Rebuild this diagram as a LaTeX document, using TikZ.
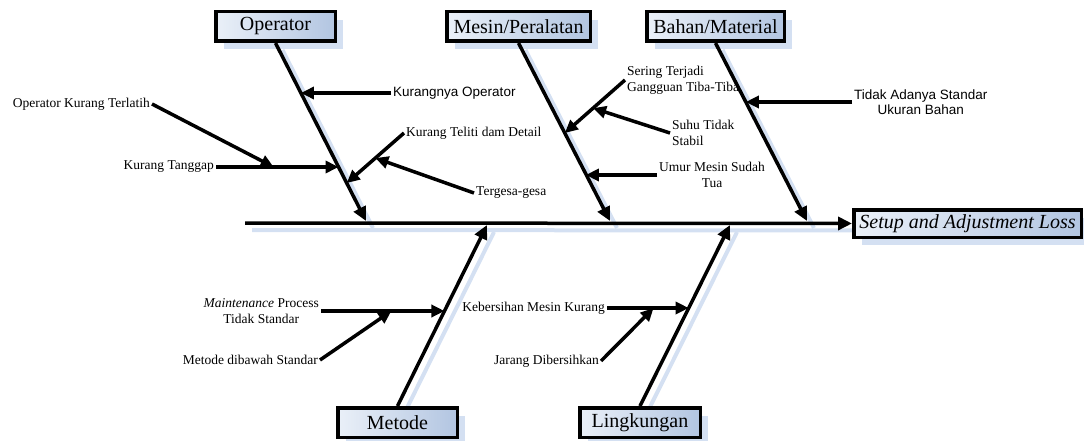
\documentclass[tikz,border=0pt]{standalone}
\usepackage{fontspec}
\setmainfont{Liberation Serif}
\newfontfamily\arial{Liberation Sans}
\usetikzlibrary{arrows.meta,calc,shadows,backgrounds}
\definecolor{birumuda}{RGB}{234,240,248}
\definecolor{birutua}{RGB}{178,197,225}
\definecolor{bayangan}{RGB}{212,224,242}

\begin{document}
\begin{tikzpicture}[x=1pt,y=-1pt,
  kotak/.style={draw, line width=3.5pt, left color=birumuda, right color=birutua,
    inner sep=0pt, minimum height=29.5pt, font=\fontsize{20}{22}\selectfont,
    general shadow={fill=bayangan, shadow xshift=8pt, shadow yshift=-8pt}},
  tulang/.style={line width=3.5pt, -{Triangle[length=14pt,width=13pt]}},
  panah/.style={line width=3.5pt, -{Triangle[length=13pt,width=12pt]}},
  bayang/.style={bayangan, line width=4pt},
  sebab/.style={font=\fontsize{13.5}{16}\selectfont, inner sep=2pt},
  sebabsans/.style={sebab, font=\arial\fontsize{13.5}{15}\selectfont}]
  \useasboundingbox (0,0) rectangle (1084,441);

  % Kotak kategori
  \node[kotak, minimum width=119.5pt] (op) at (275.5,26.5) {Operator};
  \node[kotak, minimum width=143.5pt] (ms) at (518.5,26.5) {Mesin/Peralatan};
  \node[kotak, minimum width=137.5pt] (bm) at (715.5,26.5) {Bahan/Material};
  \node[kotak, minimum width=119.5pt] (mt) at (397.5,422.5) {Metode};
  \node[kotak, minimum width=120.5pt] (lk) at (640,422.5) {Lingkungan};
  \node[kotak, minimum width=227.5pt, minimum height=27.5pt] (hasil) at (967.5,223.5)
    {\textit{Setup and Adjustment Loss}};

  % Ujung tulang di garis utama
  \coordinate (ekor) at (245,223);
  \coordinate (op-ujung) at (366,221);
  \coordinate (ms-ujung) at (610,221);
  \coordinate (bm-ujung) at (807,221);
  \coordinate (mt-ujung) at (487,225);
  \coordinate (lk-ujung) at (730,225);

  % Bayangan garis
  \begin{scope}[on background layer]
    \draw[bayang] ([shift={(7,7)}]ekor) -- ([shift={(7,7)}]hasil.west);
    \foreach \k in {op,ms,bm}
      \draw[bayang] ([shift={(7,7)}]\k.south) -- ([shift={(7,7)}]\k-ujung);
    \foreach \k in {mt,lk}
      \draw[bayang] ([shift={(7,7)}]\k.north) -- ([shift={(7,7)}]\k-ujung);
  \end{scope}

  % Garis utama dan tulang
  \draw[tulang] (ekor) -- (hasil.west);
  \foreach \k in {op,ms,bm}
    \draw[tulang] (\k.south) -- (\k-ujung);
  \foreach \k in {mt,lk}
    \draw[tulang] (\k.north) -- (\k-ujung);

  % Operator
  \node[sebabsans, anchor=west] (kop) at (391,93) {Kurangnya Operator};
  \node[sebab, anchor=east] (ktg) at (216,167) {Kurang Tanggap};
  \node[sebab, anchor=east] (okt) at (152,104) {Operator Kurang Terlatih};
  \node[sebab, anchor=west] (ktd) at (404,133) {Kurang Teliti dam Detail};
  \node[sebab, anchor=west] (tg) at (474,193) {Tergesa-gesa};
  \path ($(op.south)!0.281!(op-ujung)$) coordinate (op-a)
        ($(op.south)!0.697!(op-ujung)$) coordinate (op-b)
        ($(op.south)!0.787!(op-ujung)$) coordinate (op-c);
  \draw[panah] (kop.west) -- (kop.west -| op-a);
  \draw[panah] (ktg.east) -- (ktg.east -| op-b);
  \path ($(ktg.east)!0.47!(op-b)$) coordinate (ktg-a);
  \draw[panah] (okt.east) -- (ktg-a);
  \draw[panah] (ktd.west) -- (op-c);
  \path ($(ktd.west)!0.5!(op-c)$) coordinate (ktd-a);
  \draw[panah] (tg.west) -- (ktd-a);

  % Mesin/Peralatan
  \node[sebab, anchor=west, align=left] (stg) at (625,80) {Sering Terjadi\\Gangguan Tiba-Tiba};
  \node[sebab, anchor=west, align=left] (sts) at (670,133) {Suhu Tidak\\Stabil};
  \node[sebab, anchor=west, align=center] (ums) at (657,175) {Umur Mesin Sudah\\Tua};
  \path ($(ms.south)!0.506!(ms-ujung)$) coordinate (ms-a)
        ($(ms.south)!0.736!(ms-ujung)$) coordinate (ms-b);
  \draw[panah] (stg.west) -- (ms-a);
  \path ($(stg.west)!0.53!(ms-a)$) coordinate (stg-a);
  \draw[panah] (sts.west) -- (stg-a);
  \draw[panah] (ums.west) -- (ums.west -| ms-b);

  % Bahan/Material
  \node[sebabsans, anchor=west, align=center] (tas) at (852,102) {Tidak Adanya Standar\\Ukuran Bahan};
  \path ($(bm.south)!0.331!(bm-ujung)$) coordinate (bm-a);
  \draw[panah] (tas.west) -- (tas.west -| bm-a);

  % Metode
  \node[sebab, anchor=east, align=center] (mps) at (321,311) {\textit{Maintenance} Process\\Tidak Standar};
  \node[sebab, anchor=east] (mds) at (320,360) {Metode dibawah Standar};
  \path ($(mt.north)!0.525!(mt-ujung)$) coordinate (mt-a);
  \draw[panah] (mps.east) -- (mps.east -| mt-a);
  \path ($(mps.east)!0.57!(mt-a)$) coordinate (mps-a);
  \draw[panah] (mds.east) -- (mps-a);

  % Lingkungan
  \node[sebab, anchor=east] (kmk) at (607,308) {Kebersihan Mesin Kurang};
  \node[sebab, anchor=east] (jdb) at (601,361) {Jarang Dibersihkan};
  \path ($(lk.north)!0.541!(lk-ujung)$) coordinate (lk-a);
  \draw[panah] (kmk.east) -- (kmk.east -| lk-a);
  \path ($(kmk.east)!0.57!(lk-a)$) coordinate (kmk-a);
  \draw[panah] (jdb.east) -- (kmk-a);
\end{tikzpicture}
\end{document}
